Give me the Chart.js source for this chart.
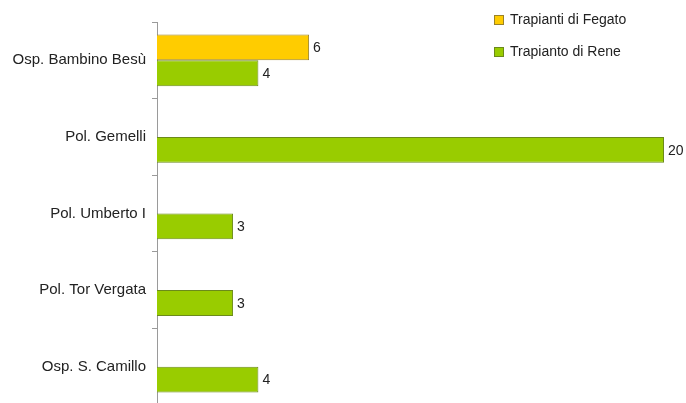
<!DOCTYPE html>
<html>
<head>
<meta charset="utf-8">
<script src="https://cdn.jsdelivr.net/npm/chart.js@4/dist/chart.umd.min.js"></script>
<style>
  html, body { margin: 0; padding: 0; background: #fff; overflow: hidden; }
  canvas { display: block; }
</style>
</head>
<body>
<canvas id="c" width="686" height="420" style="width:686px;height:420px"></canvas>
<script>
const categories = ['Osp. Bambino Besù', 'Pol. Gemelli', 'Pol. Umberto I', 'Pol. Tor Vergata', 'Osp. S. Camillo'];
const seriesNames = ['Trapianti di Fegato', 'Trapianto di Rene'];
const fegatoValues = [6, null, null, null, null];
const reneValues = [4, 20, 3, 3, 4];

const FONT = '"Liberation Sans", Arial, sans-serif';

const valueLabels = {
  id: 'valueLabels',
  afterDatasetsDraw(chart) {
    const ctx = chart.ctx;
    ctx.save();
    ctx.font = '14px ' + FONT;
    ctx.fillStyle = '#222';
    ctx.textAlign = 'left';
    ctx.textBaseline = 'middle';
    chart.data.datasets.forEach((ds, i) => {
      const meta = chart.getDatasetMeta(i);
      meta.data.forEach((bar, j) => {
        const v = ds.data[j];
        if (v === null || v === undefined) return;
        ctx.fillText(String(v), bar.x + 4, bar.y + 1);
      });
    });
    ctx.restore();
  }
};

const sideLegend = {
  id: 'sideLegend',
  afterDraw(chart) {
    const ctx = chart.ctx;
    ctx.save();
    ctx.font = '14px ' + FONT;
    ctx.textAlign = 'left';
    ctx.textBaseline = 'middle';
    const x = 494, ys = [20, 52];
    chart.data.datasets.forEach((ds, i) => {
      const y = ys[i];
      ctx.fillStyle = ds.backgroundColor;
      ctx.fillRect(x, y - 5, 10, 10);
      ctx.strokeStyle = ds.borderColor;
      ctx.lineWidth = 1;
      ctx.strokeRect(x + 0.5, y - 4.5, 9, 9);
      ctx.fillStyle = '#222';
      ctx.fillText(ds.label, x + 16, y);
    });
    ctx.restore();
  }
};

new Chart(document.getElementById('c'), {
  type: 'bar',
  data: {
    labels: categories,
    datasets: [
      { label: seriesNames[0], data: fegatoValues, backgroundColor: '#FFCC00', borderColor: '#9a8228', borderWidth: 1 },
      { label: seriesNames[1], data: reneValues, backgroundColor: '#99CC00', borderColor: '#6b8a1a', borderWidth: 1 }
    ]
  },
  options: {
    indexAxis: 'y',
    responsive: false,
    animation: false,
    categoryPercentage: 0.675,
    barPercentage: 1,
    layout: { padding: { top: 22, right: 22, bottom: 11.75, left: 0 } },
    plugins: { legend: { display: false }, tooltip: { enabled: false } },
    scales: {
      x: { display: false, min: 0, max: 20 },
      y: {
        afterFit(s) { s.width = 157; },
        border: { display: true, color: '#9a9a9a', width: 1 },
        grid: { drawOnChartArea: false, drawTicks: true, tickLength: 5, color: '#9a9a9a' },
        ticks: { color: '#222', font: { family: FONT, size: 15 }, padding: 6 }
      }
    }
  },
  plugins: [valueLabels, sideLegend]
});
</script>
</body>
</html>
